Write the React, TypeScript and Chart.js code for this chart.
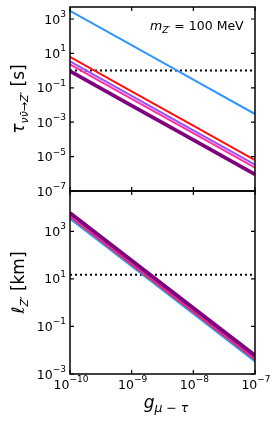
import React, { useEffect, useRef } from 'react';
import { Chart, registerables } from 'chart.js';
Chart.register(...registerables);

// ---- data ----
const gCoupling = [1e-10, 1e-9, 1e-8, 1e-7];
const xTickValues = [1e-10, 1e-9, 1e-8, 1e-7];
const xTickExps = ['−10', '−9', '−8', '−7'];

const tauBlue = [3.0e3, 3.0e1, 3.0e-1, 3.0e-3];
const tauRed = [6.3, 6.3e-2, 6.3e-4, 6.3e-6];
const tauViolet = [3.4, 3.4e-2, 3.4e-4, 3.4e-6];
const tauPink = [2.3, 2.3e-2, 2.3e-4, 2.3e-6];
const tauPurple = [0.93, 9.3e-3, 9.3e-5, 9.3e-7];
const tauRef = [1, 1, 1, 1];

const lenBlue = [3.4e3, 34, 0.34, 3.4e-3];
const lenRed = [4.2e3, 42, 0.42, 4.2e-3];
const lenPink = [4.7e3, 47, 0.47, 4.7e-3];
const lenViolet = [5.2e3, 52, 0.52, 5.2e-3];
const lenPurple = [6.0e3, 60, 0.6, 6.0e-3];
const lenRef = [15, 15, 15, 15];

const tauTicks = [1e3, 1e1, 1e-1, 1e-3, 1e-5, 1e-7];
const tauTickExps = ['3', '1', '−1', '−3', '−5', '−7'];
const lenTicks = [1e3, 1e1, 1e-1, 1e-3];
const lenTickExps = ['3', '1', '−1', '−3'];

const C_BLUE = '#2f95ff';
const C_RED = '#ff1010';
const C_VIOLET = '#9b4dff';
const C_PINK = '#ff2fa0';
const C_PURPLE = '#800080';

const FONT = '"DejaVu Sans", sans-serif';

type Part = { t: string; s: number; i?: boolean; dy?: number };

function drawParts(ctx: CanvasRenderingContext2D, parts: Part[], x: number, y: number, align: 'left' | 'right' | 'center') {
  let total = 0;
  const widths: number[] = [];
  for (const p of parts) {
    ctx.font = `${p.i ? 'italic ' : ''}${p.s}px ${FONT}`;
    const w = ctx.measureText(p.t).width;
    widths.push(w);
    total += w;
  }
  let cx = align === 'right' ? x - total : align === 'center' ? x - total / 2 : x;
  ctx.textAlign = 'left';
  ctx.textBaseline = 'alphabetic';
  parts.forEach((p, k) => {
    ctx.font = `${p.i ? 'italic ' : ''}${p.s}px ${FONT}`;
    ctx.fillText(p.t, cx, y + (p.dy || 0));
    cx += widths[k];
  });
}

function pts(ys: number[]) {
  return gCoupling.map((g, i) => ({ x: g, y: ys[i] }));
}

function line(ys: number[], color: string, width: number) {
  return {
    data: pts(ys),
    borderColor: color,
    backgroundColor: color,
    borderWidth: width,
    pointRadius: 0,
    tension: 0,
    fill: false,
    borderCapStyle: 'butt' as const,
  };
}

function dotted(ys: number[]) {
  return {
    data: pts(ys),
    borderColor: '#000',
    borderWidth: 2,
    borderDash: [2, 3],
    pointRadius: 0,
    fill: false,
    borderCapStyle: 'butt' as const,
  };
}

function framePlugin(cfg: {
  yTicks: number[];
  yExps: string[];
  xLabels: boolean;
  title: Part[];
  titleX: number;
  annotate?: boolean;
}) {
  return {
    id: 'frame' + Math.random(),
    afterDraw(chart: any) {
      const ctx: CanvasRenderingContext2D = chart.ctx;
      const a = chart.chartArea;
      const xs = chart.scales.x;
      const ys = chart.scales.y;
      ctx.save();
      ctx.strokeStyle = '#000';
      ctx.fillStyle = '#000';
      ctx.lineWidth = 1.5;
      ctx.strokeRect(a.left, a.top, a.right - a.left, a.bottom - a.top);
      ctx.lineWidth = 1.2;
      ctx.beginPath();
      for (const v of xTickValues) {
        const px = xs.getPixelForValue(v);
        ctx.moveTo(px, a.bottom);
        ctx.lineTo(px, a.bottom - 4);
        ctx.moveTo(px, a.top);
        ctx.lineTo(px, a.top + 4);
      }
      for (const v of cfg.yTicks) {
        const py = ys.getPixelForValue(v);
        ctx.moveTo(a.left, py);
        ctx.lineTo(a.left + 4, py);
        ctx.moveTo(a.right, py);
        ctx.lineTo(a.right - 4, py);
      }
      ctx.stroke();
      // y tick labels
      cfg.yTicks.forEach((v, k) => {
        const py = ys.getPixelForValue(v);
        drawParts(ctx, [{ t: '10', s: 12.5 }, { t: cfg.yExps[k], s: 9, dy: -6.5 }], a.left - 4, py + 4.5, 'right');
      });
      if (cfg.xLabels) {
        xTickValues.forEach((v, k) => {
          const px = xs.getPixelForValue(v);
          drawParts(ctx, [{ t: '10', s: 12.5 }, { t: xTickExps[k], s: 9, dy: -6.5 }], px + 1, a.bottom + 14.5, 'center');
        });
        drawParts(
          ctx,
          [
            { t: 'g', s: 17, i: true },
            { t: 'μ', s: 12.5, i: true, dy: 3.5 },
            { t: ' − ', s: 12.5, dy: 3.5 },
            { t: 'τ', s: 12.5, i: true, dy: 3.5 },
          ],
          166,
          408,
          'center'
        );
      }
      // y title
      ctx.save();
      ctx.translate(23.5, (a.top + a.bottom) / 2);
      ctx.rotate(-Math.PI / 2);
      drawParts(ctx, cfg.title, 0, 0, 'center');
      ctx.restore();
      if (cfg.annotate) {
        drawParts(
          ctx,
          [
            { t: 'm', s: 12.5, i: true },
            { t: 'Z′', s: 9, i: true, dy: 2.5 },
            { t: ' = 100 MeV', s: 12.5 },
          ],
          150,
          30,
          'left'
        );
      }
      ctx.restore();
    },
  };
}

function makeChart(canvas: HTMLCanvasElement, datasets: any[], yMin: number, yMax: number, padding: any, plugin: any) {
  return new Chart(canvas, {
    type: 'line',
    data: { datasets },
    options: {
      animation: false,
      responsive: false,
      devicePixelRatio: 1,
      layout: { padding },
      plugins: { legend: { display: false }, tooltip: { enabled: false } },
      scales: {
        x: { type: 'logarithmic', min: 1e-10, max: 1e-7, display: false },
        y: { type: 'logarithmic', min: yMin, max: yMax, display: false },
      },
    },
    plugins: [plugin],
  } as any);
}

export default function App() {
  const topRef = useRef<HTMLCanvasElement>(null);
  const botRef = useRef<HTMLCanvasElement>(null);

  useEffect(() => {
    const top = makeChart(
      topRef.current!,
      [
        line(tauPurple, C_PURPLE, 3.8),
        line(tauPink, C_PINK, 2),
        line(tauViolet, C_VIOLET, 2),
        line(tauRed, C_RED, 2),
        line(tauBlue, C_BLUE, 2),
        dotted(tauRef),
      ],
      1e-7,
      5e3,
      { left: 70, right: 25, top: 7, bottom: 424 - 191 },
      framePlugin({
        yTicks: tauTicks,
        yExps: tauTickExps,
        xLabels: false,
        title: [
          { t: 'τ', s: 17, i: true },
          { t: 'νν̄→Z′', s: 11, i: true, dy: 4 },
          { t: ' [s]', s: 17 },
        ],
        titleX: 23.5,
        annotate: true,
      })
    );
    const bot = makeChart(
      botRef.current!,
      [
        line(lenPurple, C_PURPLE, 3.8),
        line(lenViolet, C_VIOLET, 2),
        line(lenPink, C_PINK, 2),
        line(lenRed, C_RED, 2),
        line(lenBlue, C_BLUE, 2),
        dotted(lenRef),
      ],
      1e-3,
      5e4,
      { left: 70, right: 25, top: 191, bottom: 424 - 374 },
      framePlugin({
        yTicks: lenTicks,
        yExps: lenTickExps,
        xLabels: true,
        title: [
          { t: 'ℓ', s: 17, i: true },
          { t: 'Z′', s: 11, i: true, dy: 4 },
          { t: ' [km]', s: 17 },
        ],
        titleX: 23.5,
      })
    );
    return () => {
      top.destroy();
      bot.destroy();
    };
  }, []);

  const cs: React.CSSProperties = { position: 'absolute', left: 0, top: 0, width: 280, height: 424 };
  return (
    <div style={{ position: 'fixed', left: 0, top: 0, width: 280, height: 424, background: '#fff' }}>
      <canvas ref={topRef} width={280} height={424} style={cs} />
      <canvas ref={botRef} width={280} height={424} style={cs} />
    </div>
  );
}
